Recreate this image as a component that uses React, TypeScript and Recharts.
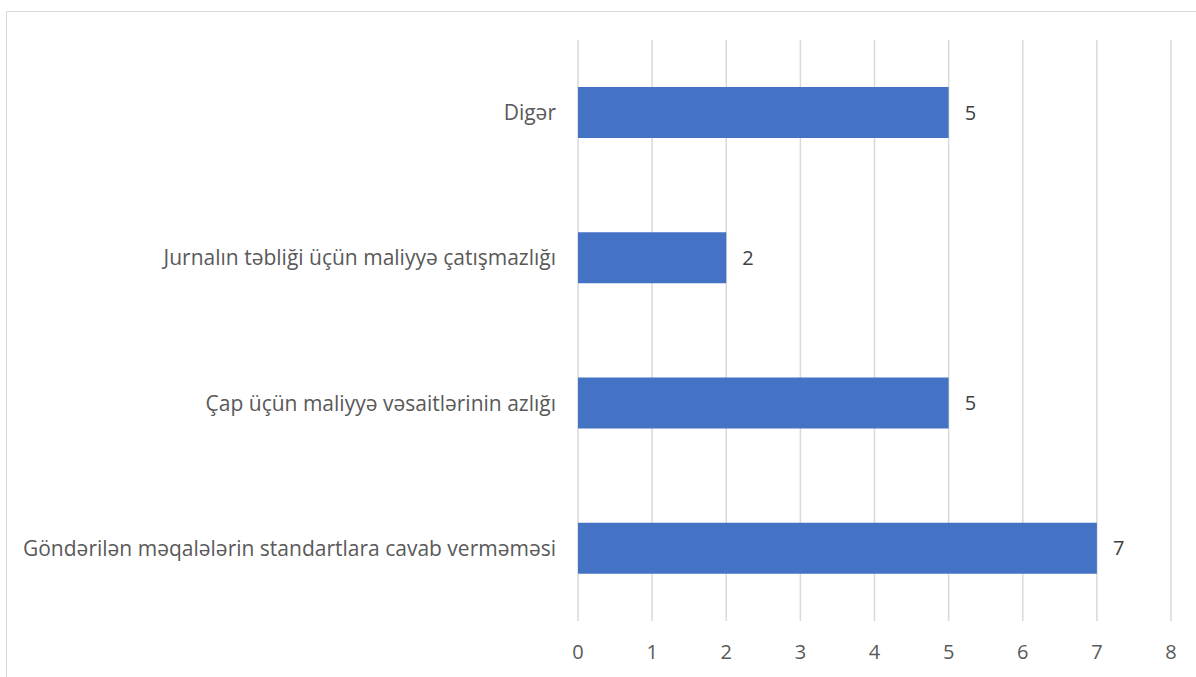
import React from 'react';
import { BarChart, Bar, XAxis, YAxis, CartesianGrid, LabelList } from 'recharts';

const categories = [
  'Digər',
  'Jurnalın təbliği üçün maliyyə çatışmazlığı',
  'Çap üçün maliyyə vəsaitlərinin azlığı',
  'Göndərilən məqalələrin standartlara cavab verməməsi',
];
const counts = [5, 2, 5, 7];
const xTicks = [0, 1, 2, 3, 4, 5, 6, 7, 8];

const FONT = '"Open Sans", Lato, sans-serif';
const TEXT_GREY = '#595959';

const App: React.FC = () => {
  const data = categories.map((name, i) => ({ name, value: counts[i] }));

  return (
    <div style={{ position: 'absolute', left: 0, top: 0, width: 1196, height: 677, overflow: 'hidden', background: '#fff', fontFamily: FONT }}>
      <div
        style={{
          position: 'absolute',
          left: 6,
          top: 11,
          width: 1220,
          height: 700,
          border: '1.5px solid #d9d9d9',
        }}
      />
      <BarChart
        width={1196}
        height={677}
        layout="vertical"
        data={data}
        margin={{ top: 40, right: 25, bottom: 0, left: 0 }}
        barCategoryGap="32%"
      >
        <CartesianGrid horizontal={false} stroke="#d9d9d9" strokeWidth={1.5} />
        <XAxis
          type="number"
          domain={[0, 8]}
          ticks={xTicks}
          interval={0}
          axisLine={false}
          tickLine={false}
          tickMargin={18}
          height={56}
          tick={{ fill: TEXT_GREY, fontSize: 20, fontFamily: FONT }}
        />
        <YAxis
          type="category"
          dataKey="name"
          width={578}
          axisLine={false}
          tickLine={false}
          tickMargin={16}
          interval={0}
          tick={{ fill: TEXT_GREY, fontSize: 21, fontFamily: FONT }}
        />
        <Bar dataKey="value" fill="#4472C4" barSize={51} isAnimationActive={false}>
          <LabelList
            dataKey="value"
            position="right"
            offset={16}
            fill="#404040"
            fontSize={20}
            fontFamily={FONT}
          />
        </Bar>
      </BarChart>
    </div>
  );
};

export default App;
